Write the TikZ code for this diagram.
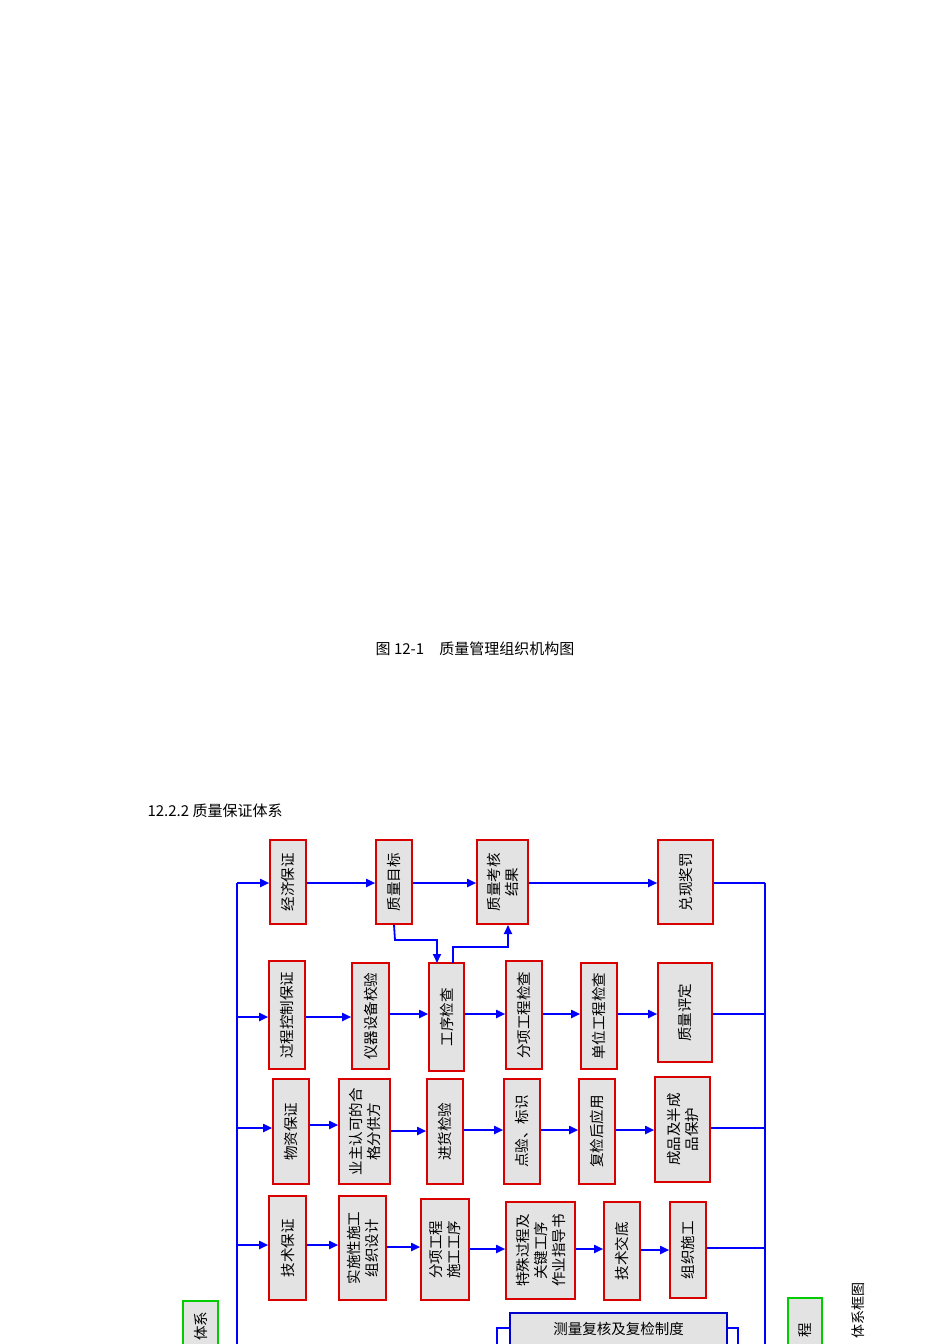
\documentclass[tikz,border=0pt]{standalone}
\usepackage{fontspec}
\newfontfamily\cjk{Noto Sans CJK SC}
\usetikzlibrary{arrows.meta}
\tikzset{
  boxbase/.style={line width=1.6pt,fill=gray!22,inner sep=0pt,align=center,font=\cjk\fontsize{14.5}{18}\selectfont},
  rbox/.style={boxbase,draw=red!85!black,rotate=90},
  gbox/.style={boxbase,draw=green!80!black},
  bbox/.style={boxbase,draw=blue!80!black},
  arr/.style={draw=blue,line width=1.8pt,-{Triangle[length=9pt,width=8pt]}},
  ln/.style={draw=blue,line width=1.8pt}
}
\newcommand\bx[6]{\node[rbox,minimum width=#5pt-#3pt,minimum height=#4pt-#2pt] (#1) at ({(#2+#4)/2},{(#3+#5)/2}) {#6};}
\begin{document}
\begin{tikzpicture}[x=1pt,y=-1pt]
\useasboundingbox (0,0) rectangle (950,1344);
\clip (0,0) rectangle (950,1344);
\fill[white] (0,0) rectangle (950,1344);
\node[font=\cjk\fontsize{15}{18}\selectfont] (cap) at (475,649) {图 12-1\quad 质量管理组织机构图};
\node[font=\cjk\fontsize{15}{18}\selectfont,anchor=west] (ttl) at (144,811) {12.2.2 质量保证体系};
% row 1
\bx{a1}{270}{840}{306}{924}{经济保证}
\bx{a2}{376}{840}{412}{924}{质量目标}
\bx{a3}{477}{840}{528}{924}{质量考核\\结果}
\bx{a4}{658}{840}{713}{924}{兑现奖罚}
% row 2
\bx{b1}{269}{961}{305}{1069}{过程控制保证}
\bx{b2}{352}{963}{389}{1069}{仪器设备校验}
\bx{b3}{429}{963}{464}{1071}{工序检查}
\bx{b4}{506}{961}{542}{1069}{分项工程检查}
\bx{b5}{581}{963}{617}{1069}{单位工程检查}
\bx{b6}{658}{963}{712}{1062}{质量评定}
% row 3
\bx{c1}{273}{1079}{309}{1184}{物资保证}
\bx{c2}{339}{1079}{390}{1184}{业主认可的合\\格分供方}
\bx{c3}{427}{1079}{463}{1184}{进货检验}
\bx{c4}{504}{1079}{540}{1184}{点验、标识}
\bx{c5}{579}{1079}{615}{1184}{复检后应用}
\bx{c6}{655}{1077}{710}{1182}{成品及半成\\品保护}
% row 4
\bx{d1}{269}{1196}{306}{1300}{技术保证}
\bx{d2}{339}{1196}{386}{1300}{实施性施工\\组织设计}
\bx{d3}{421}{1199}{469}{1300}{分项工程\\施工工序}
\bx{d4}{506}{1202}{575}{1299}{特殊过程及\\关键工序\\作业指导书}
\bx{d5}{604}{1202}{640}{1300}{技术交底}
\bx{d6}{670}{1202}{706}{1298}{组织施工}
% bottom partial boxes
\node[gbox,minimum width=35pt,minimum height=80pt] (g1) at (200.5,1341) {};
\node[rotate=90,anchor=east,font=\cjk\fontsize{14.5}{18}\selectfont] (g1t) at (200.5,1308) {体系};
\node[gbox,minimum width=34pt,minimum height=80pt] (g2) at (805,1338) {};
\node[rotate=90,anchor=center,font=\cjk\fontsize{14.5}{18}\selectfont] (g2t) at (805,1330) {程};
\node[bbox,minimum width=217pt,minimum height=60pt] (m1) at (618.5,1343) {};
\node[font=\cjk\fontsize{14.5}{18}\selectfont] (m1t) at (618.5,1329) {测量复核及复检制度};
\draw[ln] (m1.north west |- 0,1328) -- (497,1328) -- (497,1350);
\draw[ln] (m1.north east |- 0,1328) -- (738,1328) -- (738,1350);
\node[rotate=90,anchor=center,font=\cjk\fontsize{14}{17}\selectfont] (cap2) at (858,1310) {体系框图};
% spines
\coordinate (L1) at (237,883); \coordinate (L2) at (237,1017);
\coordinate (L3) at (237,1128); \coordinate (L4) at (237,1245);
\coordinate (L5) at (237,1350);
\coordinate (R1) at (765,883); \coordinate (R2) at (765,1014);
\coordinate (R3) at (765,1128); \coordinate (R4) at (765,1248);
\coordinate (R5) at (765,1350);
\draw[ln] (L1) -- (L5);
\draw[ln] (R1) -- (R5);
\draw[arr] (L1) -- (L1 -| a1.north);
\draw[arr] (L2) -- (L2 -| b1.north);
\draw[arr] (L3) -- (L3 -| c1.north);
\draw[arr] (L4) -- (L4 -| d1.north);
\draw[ln] (a4.south |- R1) -- (R1);
\draw[ln] (b6.south |- R2) -- (R2);
\draw[ln] (c6.south |- R3) -- (R3);
\draw[ln] (d6.south |- R4) -- (R4);
% row arrows
\draw[arr] (a1.south |- L1) -- (a2.north |- L1);
\draw[arr] (a2.south |- L1) -- (a3.north |- L1);
\draw[arr] (a3.south |- L1) -- (a4.north |- L1);
\foreach \p/\q/\y in {b1/b2/1017,b2/b3/1014,b3/b4/1014,b4/b5/1014,b5/b6/1014,
  c1/c2/1125,c2/c3/1131,c3/c4/1130,c4/c5/1130,c5/c6/1130,
  d1/d2/1245,d2/d3/1247,d3/d4/1249,d4/d5/1249,d5/d6/1250}
  \draw[arr] (\p.south |- 0,\y) -- (\q.north |- 0,\y);
% links between row 1 and row 2
\draw[arr] (a2.west) -- (395,940) -- (437,940) -- (437,963);
\draw[arr] (453,963) -- (453,947) -- (508,947) -- (508,925);
\end{tikzpicture}
\end{document}
